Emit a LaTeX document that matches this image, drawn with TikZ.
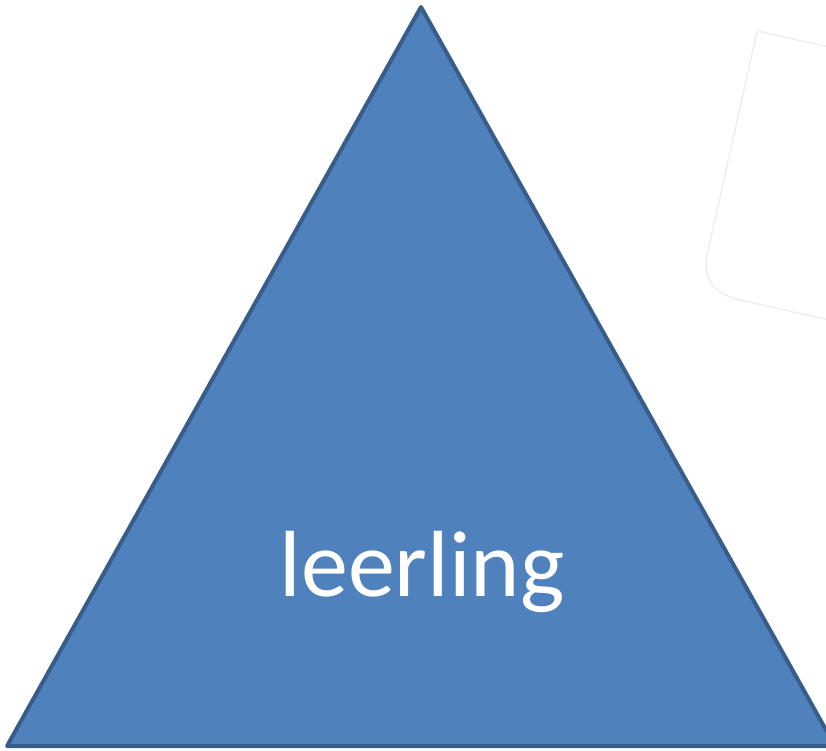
\documentclass[tikz,border=0pt]{standalone}
\usepackage{fontspec}
\setmainfont{Carlito}
\definecolor{trifill}{HTML}{4F81BD}
\definecolor{triline}{HTML}{385D8A}
\definecolor{faint}{HTML}{EEEEEE}
\begin{document}
\begin{tikzpicture}[x=1pt,y=-1pt,
  tri/.style={fill=trifill,draw=triline,line width=4pt,line join=round},
  ghost/.style={draw=faint,line width=1.5pt,line join=round},
  lbl/.style={text=white,font=\fontsize{94}{110}\selectfont,anchor=base,inner sep=0pt}]
\useasboundingbox (0,0) rectangle (826,750);
\begin{scope}
\clip (0,0) rectangle (826,750);
\draw[ghost] (860,54) -- (762,32) .. controls (758,31) and (757,32) .. (756,36)
  -- (707,255) .. controls (702,280) and (715,294) .. (740,300) -- (860,327);
\path[tri] (421,7) -- (835,746) -- (7,746) -- cycle;
\coordinate (apex) at (421,7);
\end{scope}
\node[lbl] (t) at (422,596) {leerling};
\end{tikzpicture}
\end{document}
